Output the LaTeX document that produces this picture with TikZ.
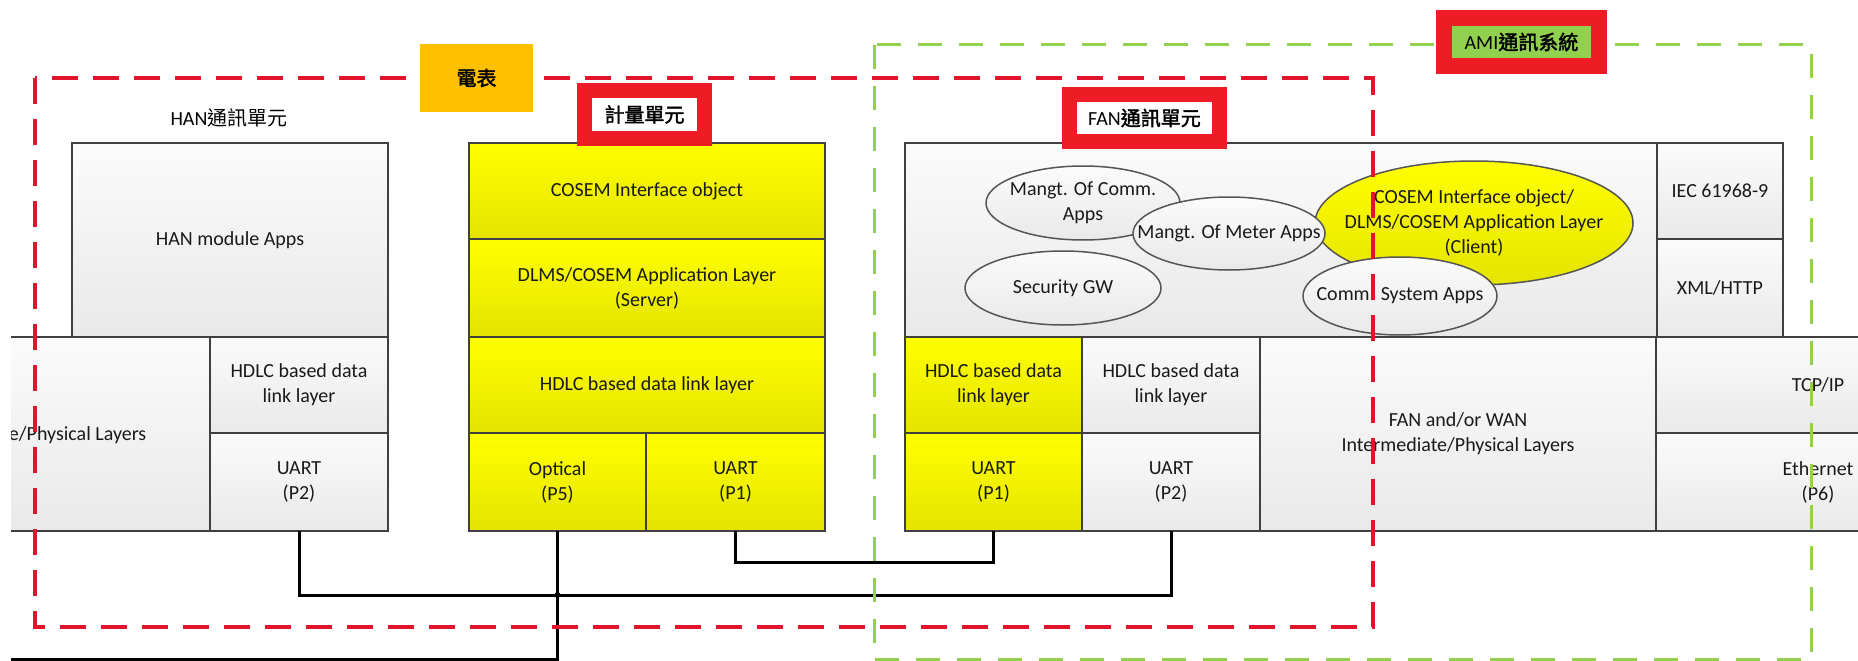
\documentclass[tikz,border=0pt]{standalone}
\usepackage{fontspec}
\setmainfont{Carlito}
\newfontfamily\cjk{Noto Sans CJK TC}
\newfontfamily\cjkb[FakeBold=2]{Noto Sans CJK TC}
\usetikzlibrary{shapes.geometric}
\definecolor{boxline}{HTML}{404040}
\definecolor{txt}{HTML}{1A1A1A}
\definecolor{gtop}{HTML}{FBFBFB}
\definecolor{gbot}{HTML}{E9E9E9}
\definecolor{ytop}{HTML}{FFFF00}
\definecolor{ybot}{HTML}{E4E400}
\definecolor{ellline}{HTML}{555555}
\definecolor{dred}{HTML}{E2142B}
\definecolor{lred}{HTML}{EE1C25}
\definecolor{dgreen}{HTML}{92D050}
\definecolor{lgreen}{HTML}{92D050}
\definecolor{lorange}{HTML}{FFC000}
\newcommand\mybox[7]{\node[#2, minimum width={(#5-#3)*1pt}, minimum height={(#6-#4)*1pt}] (#1) at ({(#3+#5)/2},{(#4+#6)/2}) {#7};}
\tikzset{
  base/.style={inner sep=0pt, outer sep=0pt, align=center, text=txt, font=\fontsize{20}{25}\selectfont},
  graybox/.style={base, draw=boxline, line width=2pt, top color=gtop, bottom color=gbot},
  yelbox/.style={base, draw=boxline, line width=2pt, top color=ytop, bottom color=ybot},
  ell/.style={ellipse, draw=ellline, line width=1.5pt, top color=gtop, bottom color=gbot, inner sep=0pt, outer sep=0pt},
  yell/.style={ell, top color=ytop, bottom color=ybot},
  conn/.style={line width=3pt, black},
  reddash/.style={draw=dred, line width=4pt, dash pattern=on 26pt off 15pt},
  greendash/.style={draw=dgreen, line width=3pt, dash pattern=on 24pt off 17pt},
  tagbox/.style={base, draw=lred, text=black},
}
\begin{document}
\begin{tikzpicture}[x=1pt, y=-1pt]
\useasboundingbox (0,0) rectangle (1858,661);
\begin{scope}
\clip (11,0) rectangle (1858,661);
% HAN side
\mybox{hanapps}{graybox}{72}{143}{388}{337}{HAN module Apps}
\mybox{hanphy}{graybox}{-20}{337}{210}{531}{}
\node[base, anchor=west] (hanphyt) at (9,435) {e/Physical Layers};
\mybox{hanhdlc}{graybox}{210}{337}{388}{433}{HDLC based data\\link layer}
\mybox{hanuart}{graybox}{210}{433}{388}{531}{UART\\(P2)}
\node[base, text=black] (hanlbl) at (229,118) {HAN{\cjk 通訊單元}};
% meter stack
\mybox{cosem}{yelbox}{469}{143}{825}{239}{COSEM Interface object}
\mybox{dlms}{yelbox}{469}{239}{825}{337}{DLMS/COSEM Application Layer\\(Server)}
\mybox{mhdlc}{yelbox}{469}{337}{825}{433}{HDLC based data link layer}
\mybox{optical}{yelbox}{469}{433}{646}{531}{Optical\\(P5)}
\mybox{muart}{yelbox}{646}{433}{825}{531}{UART\\(P1)}
% FAN stack
\mybox{fanbox}{graybox}{905}{143}{1657}{337}{}
\mybox{iec}{graybox}{1657}{143}{1783}{239}{IEC 61968-9}
\mybox{xml}{graybox}{1657}{239}{1783}{337}{XML/HTTP}
\mybox{fhdlc1}{yelbox}{905}{337}{1082}{433}{HDLC based data\\link layer}
\mybox{fuart1}{yelbox}{905}{433}{1082}{531}{UART\\(P1)}
\mybox{fhdlc2}{graybox}{1082}{337}{1260}{433}{HDLC based data\\link layer}
\mybox{fuart2}{graybox}{1082}{433}{1260}{531}{UART\\(P2)}
\mybox{fanwan}{graybox}{1260}{337}{1656}{531}{FAN and/or WAN\\Intermediate/Physical Layers}
\mybox{tcp}{graybox}{1656}{337}{1980}{433}{TCP/IP}
\mybox{eth}{graybox}{1656}{433}{1980}{531}{Ethernet\\(P6)}
% ellipses
\node[yell, minimum width=318pt, minimum height=124pt] (eclient) at (1474,223) {};
\node[base] (eclientt) at (eclient.center) {COSEM Interface object/\\DLMS/COSEM Application Layer\\(Client)};
\node[ell, minimum width=194pt, minimum height=74pt] (ecomm) at (1083,203) {};
\node[base] (ecommt) at (ecomm.center) {Mangt. Of Comm.\\Apps};
\node[ell, minimum width=192pt, minimum height=73pt] (emeter) at (1229,233.5) {};
\node[base] (emetert) at (emeter.center) {Mangt. Of Meter Apps};
\node[ell, minimum width=196pt, minimum height=74pt] (esec) at (1063,288) {};
\node[base] (esect) at (esec.center) {Security GW};
\node[ell, minimum width=194pt, minimum height=78pt] (ecsys) at (1400,296) {};
\node[base] (ecsyst) at (ecsys.center) {Comm. System Apps};
% connectors
\coordinate (hline) at (0,595);
\coordinate (blc) at (11,659);
\draw[conn] (hanuart.south) -- ++(0,64) -| (fuart2.south);
\draw[conn] (muart.south) -- ++(0,31) -| (fuart1.south);
\draw[conn] (optical.south) |- (blc);
\node[circle, fill=black, inner sep=0pt, minimum size=6pt] (junc) at (optical.south |- hline) {};
% dashed frames
\draw[reddash] (35,78) rectangle (1373,627);
\draw[greendash] (874,45) rectangle (1811,659);
% tags
\node[base, fill=lorange, text=black, minimum width=113pt, minimum height=68pt] (dianbiao) at (476.5,78) {\cjkb 電表};
\node[tagbox, line width=15pt, fill=white, minimum width=120pt, minimum height=48pt] (jiliang) at (644.5,114.5) {\cjkb 計量單元};
\node[tagbox, line width=15pt, fill=white, minimum width=150pt, minimum height=47pt] (fanlbl) at (1144.5,118) {FAN{\cjkb 通訊單元}};
\node[tagbox, line width=16pt, fill=lgreen, minimum width=155pt, minimum height=48pt] (amilbl) at (1521.5,42) {AMI{\cjkb 通訊系統}};
\end{scope}
\end{tikzpicture}
\end{document}
